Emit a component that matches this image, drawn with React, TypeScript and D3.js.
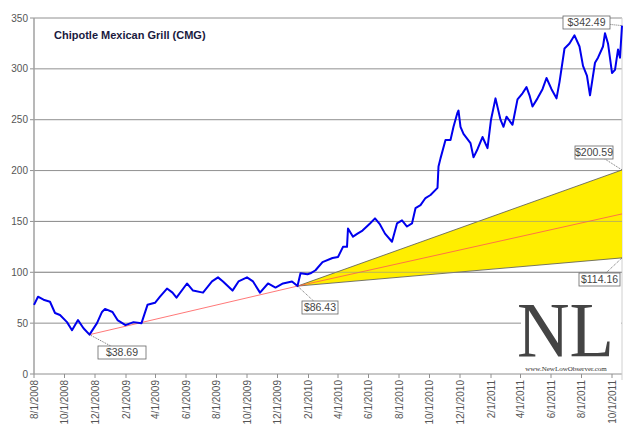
import * as d3 from "d3"

const priceDates = [
  "2008-08-01","2008-08-09","2008-08-20","2008-09-02","2008-09-12","2008-09-22","2008-10-06","2008-10-16","2008-10-28","2008-11-08","2008-11-20",
  "2008-12-05","2008-12-15","2008-12-21","2009-01-05","2009-01-15","2009-01-31","2009-02-16","2009-03-04","2009-03-16","2009-03-31",
  "2009-04-10","2009-04-24","2009-05-05","2009-05-13","2009-06-03","2009-06-15","2009-07-05","2009-07-23","2009-08-04","2009-08-14",
  "2009-09-02","2009-09-14","2009-10-01","2009-10-13","2009-10-27","2009-11-12","2009-11-27","2009-12-12","2009-12-30","2010-01-10",
  "2010-01-16","2010-01-30","2010-02-05","2010-02-15","2010-03-01","2010-03-21","2010-04-01","2010-04-11","2010-04-19","2010-04-21",
  "2010-05-01","2010-05-10","2010-05-20","2010-06-04","2010-06-14","2010-06-24","2010-07-04","2010-07-18","2010-07-28","2010-08-07",
  "2010-08-17","2010-08-27","2010-09-03","2010-09-13","2010-09-23","2010-10-03","2010-10-17","2010-10-19","2010-10-23","2010-11-02",
  "2010-11-12","2010-11-18","2010-11-26","2010-11-28","2010-12-02","2010-12-08","2010-12-22","2010-12-28","2011-01-05","2011-01-15",
  "2011-01-25","2011-02-01","2011-02-10","2011-02-20","2011-02-26","2011-03-04","2011-03-16","2011-03-26","2011-04-05","2011-04-13",
  "2011-04-19","2011-04-25","2011-05-05","2011-05-15","2011-05-23","2011-06-02","2011-06-12","2011-06-18","2011-06-28","2011-07-08",
  "2011-07-18","2011-07-28","2011-08-04","2011-08-12","2011-08-18","2011-08-28","2011-09-03","2011-09-13","2011-09-17","2011-09-23",
  "2011-10-01","2011-10-07","2011-10-13","2011-10-17","2011-10-21",
]
const priceValues = [
  68, 76, 73, 71, 60, 58, 51, 43, 53, 45, 38.69,
  50, 61, 64, 61, 53, 48, 51, 50, 68, 70,
  76, 84, 80, 75, 89, 82, 80, 91, 95, 91,
  82, 91, 95, 91, 80, 89, 85, 89, 91, 86.43,
  99, 98, 99, 102, 110, 114, 115, 125, 125, 143,
  135, 138, 141, 148, 153, 147, 138, 130, 148, 151,
  145, 148, 163, 166, 173, 176, 183, 204, 212, 230,
  230, 243, 257, 259, 243, 236, 227, 213, 221, 233,
  222, 250, 271, 250, 243, 253, 245, 270, 276, 282,
  274, 263, 271, 280, 291, 280, 271, 287, 320, 325,
  333, 322, 303, 293, 274, 306, 311, 322, 335, 325,
  296, 299, 319, 311, 342.49,
]

const lowPoint = { date: "2008-11-20", value: 38.69 }
const pivotPoint = { date: "2010-01-10", value: 86.43 }
const endDate = "2011-10-21"
const coneHigh = 200.59
const coneLow = 114.16
const lastPrice = 342.49

const yTicks = [0, 50, 100, 150, 200, 250, 300, 350]

const parse = (s: string) => new Date(s + "T00:00:00Z")

export default function App() {
  const width = 640
  const height = 438
  const left = 34
  const right = 622
  const top = 18
  const bottom = 374

  const x = d3.scaleUtc().domain([parse("2008-08-01"), parse(endDate)]).range([left, right])
  const y = d3.scaleLinear().domain([0, 350]).range([bottom, top])

  const xTicks = d3.utcMonth.range(parse("2008-08-01"), parse("2011-10-02"), 2)
  const fmt = (d: Date) => `${d.getUTCMonth() + 1}/1/${d.getUTCFullYear()}`

  const series = priceDates.map((d, i) => ({ date: parse(d), value: priceValues[i] }))
  const line = d3
    .line<{ date: Date; value: number }>()
    .x((d) => x(d.date))
    .y((d) => y(d.value))

  const px = x(parse(pivotPoint.date))
  const py = y(pivotPoint.value)
  const ex = x(parse(endDate))
  const coneMid = (coneHigh + coneLow) / 2

  const conePath = `M${px},${py}L${ex},${y(coneHigh)}L${ex},${y(coneLow)}Z`

  const callout = (label: string, bx: number, by: number, tx: number, ty: number, w: number) => (
    <g key={label}>
      <line x1={bx + w / 2} y1={by} x2={tx} y2={ty} stroke="#333" strokeWidth={0.7} strokeDasharray="1,1" />
      <rect x={bx} y={by - 6} width={w} height={13} fill="#fff" stroke="#666" strokeWidth={0.8} />
      <text x={bx + w / 2} y={by + 4} textAnchor="middle" fontSize={10.5} fill="#444" fontFamily="Liberation Sans, Arial">
        {label}
      </text>
    </g>
  )

  return (
    <svg width={width} height={height} style={{ position: "fixed", left: 0, top: 0, background: "#fff" }}>
      <rect x={0} y={0} width={width} height={height} fill="#fff" />
      {yTicks.map((t) => (
        <g key={t}>
          <line x1={left} x2={right} y1={y(t)} y2={y(t)} stroke="#909090" strokeWidth={1} />
          <line x1={left - 4} x2={left} y1={y(t)} y2={y(t)} stroke="#909090" />
          <text x={left - 6} y={y(t) + 3.5} textAnchor="end" fontSize={10} fill="#555" fontFamily="Liberation Sans, Arial">
            {t}
          </text>
        </g>
      ))}
      <line x1={left} x2={left} y1={top} y2={bottom} stroke="#a0a0a0" strokeWidth={1.5} />
      <line x1={right} x2={right} y1={top} y2={bottom + 6} stroke="#d0d0d0" strokeWidth={1} />
      {xTicks.map((d) => (
        <g key={+d}>
          <line x1={x(d)} x2={x(d)} y1={bottom} y2={bottom + 4} stroke="#909090" />
          <text
            transform={`translate(${x(d) + 3.5},${bottom + 6}) rotate(-90)`}
            textAnchor="end"
            fontSize={10}
            fill="#555"
            fontFamily="Liberation Sans, Arial"
          >
            {fmt(d)}
          </text>
        </g>
      ))}

      <path d={conePath} fill="#ffee00" />
      <line x1={px} y1={py} x2={ex} y2={y(coneHigh)} stroke="#555" strokeWidth={0.8} />
      <line x1={px} y1={py} x2={ex} y2={y(coneLow)} stroke="#555" strokeWidth={0.8} />
      <line x1={x(parse(lowPoint.date))} y1={y(lowPoint.value)} x2={px} y2={py} stroke="#ff5555" strokeWidth={0.8} />
      <line x1={px} y1={py} x2={ex} y2={y(coneMid)} stroke="#ff5555" strokeWidth={0.8} />
      {[100, 150].map((t) => (
        <line key={t} x1={left} x2={right} y1={y(t)} y2={y(t)} stroke="#909090" strokeOpacity={0.6} />
      ))}

      <path d={line(series) ?? ""} fill="none" stroke="#0000ee" strokeWidth={2} strokeLinejoin="round" />

      <text x={54} y={39} fontSize={11} fontWeight="bold" fill="#1a1a40" fontFamily="Liberation Sans, Arial">
        Chipotle Mexican Grill (CMG)
      </text>

      <rect x={521} y={300} width={100} height={73} fill="#fff" />
      <text
        x={517}
        y={356}
        fontSize={78}
        fill="#444"
        fontFamily="Liberation Serif, Times New Roman"
        textLength={97}
        lengthAdjust="spacingAndGlyphs"
      >
        NL
      </text>
      <text x={566} y={371} textAnchor="middle" fontSize={7} fill="#333" fontFamily="Liberation Serif, Times New Roman">
        www.NewLowObserver.com
      </text>

      {callout("$38.69", 98, 352, x(parse(lowPoint.date)), y(lowPoint.value), 48)}
      {callout("$86.43", 302, 307, px, py, 36)}
      {callout("$342.49", 563, 22, ex, y(lastPrice), 47)}
      {callout("$200.59", 575, 152, ex, y(coneHigh), 38)}
      {callout("$114.16", 579, 279, ex, y(coneLow), 41)}
    </svg>
  )
}
